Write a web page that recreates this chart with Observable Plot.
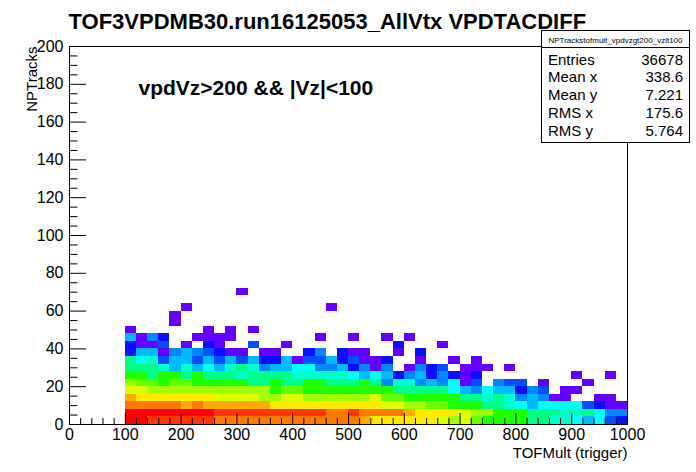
<!DOCTYPE html>
<html>
<head>
<meta charset="utf-8">
<script src="https://cdn.jsdelivr.net/npm/d3@7"></script>
<script src="https://cdn.jsdelivr.net/npm/@observablehq/plot@0.6"></script>
<style>
  html, body { margin: 0; padding: 0; background: #fff; }
  #chart { width: 696px; height: 472px; }
</style>
</head>
<body>
<div id="chart"></div>
<script>
// ---- Text ----
const title = "TOF3VPDMB30.run16125053_AllVtx VPDTACDIFF";
const cutLabel = "vpdVz>200 && |Vz|<100";
const xLabel = "TOFMult (trigger)";
const yLabel = "NPTracks";
const histName = "NPTrackstofmult_vpdvzgt200_vzlt100";
const statNames = ["Entries", "Mean x", "Mean y", "RMS x", "RMS y"];
const statValues = ["36678", "338.6", "7.221", "175.6", "5.764"];

// ---- Ticks ----
const xTicks = [0, 100, 200, 300, 400, 500, 600, 700, 800, 900, 1000];
const yTicks = [0, 20, 40, 60, 80, 100, 120, 140, 160, 180, 200];

// ---- Binning: x bins of 20 starting at TOFMult = 100, y bins of 4 from 0 ----
const xFirstEdge = 100, xBinWidth = 20, yBinWidth = 4;

// ---- Counts per cell (row = NPTracks bin, column = TOFMult bin 100..1000) ----
const row00 = [512,468,372,355,341,333,318,301,276,268,259,251,247,240,236,229,221,214,209,204,198,181,131,124,118,110,103,97,88,60,66,42,29,27,24,22,19,17,14,12,9,6,7,3,2];
const row01 = [545,530,512,497,470,455,431,414,395,384,372,361,350,338,322,311,298,286,272,263,284,254,241,226,210,186,131,122,112,101,86,61,54,29,27,23,20,18,16,13,11,15,8,4,4];
const row02 = [268,255,243,231,212,188,201,190,182,174,163,152,141,132,128,122,118,113,108,104,99,96,93,84,77,58,51,41,35,28,25,22,18,16,11,8,5,8,7,7,7,3,2,1,1];
const row03 = [147,131,127,121,116,109,102,96,89,84,79,74,58,52,68,64,61,57,54,51,48,46,63,40,36,29,27,25,23,21,19,16,12,15,10,4,5,4,1,1,0,0,1,1,0];
const row04 = [82,76,61,59,57,56,54,53,51,50,48,47,45,29,34,31,28,27,26,25,24,24,23,22,20,18,17,16,15,8,6,4,7,6,5,2,4,3,0,1,1,0,0,0,0];
const row05 = [48,38,35,28,33,31,27,26,25,24,23,19,18,22,17,16,21,22,17,16,15,21,15,4,12,11,4,5,4,7,1,3,0,4,3,3,0,1,0,0,0,1,0,0,0];
const row06 = [26,24,19,23,22,18,21,17,16,16,13,17,16,15,15,12,12,11,11,10,8,6,7,5,2,4,5,2,4,2,1,2,0,0,0,0,0,0,0,0,1,0,0,1,0];
const row07 = [18,16,15,13,6,11,5,8,6,12,15,10,4,6,5,9,7,4,4,5,2,4,1,4,0,1,4,2,3,0,1,1,1,0,1,0,0,0,0,0,0,0,0,0,0];
const row08 = [16,9,12,3,6,5,3,5,3,6,3,5,2,2,5,1,3,3,6,2,3,1,1,2,0,0,1,0,0,1,0,1,0,0,0,0,0,0,0,0,0,0,0,0,0];
const row09 = [2,6,5,1,4,5,4,3,2,1,1,0,1,1,0,0,2,4,0,2,1,1,0,0,1,0,2,0,0,0,0,0,0,0,0,0,0,0,0,0,0,0,0,0,0];
const row10 = [2,1,1,3,0,1,0,2,1,0,0,3,0,0,1,0,0,0,0,0,0,0,0,0,2,0,0,0,1,0,0,0,0,0,0,0,0,0,0,0,0,0,0,0,0];
const row11 = [5,1,4,2,0,0,1,1,1,1,0,0,0,0,0,0,0,1,0,0,1,0,0,1,0,1,0,0,0,0,0,0,0,0,0,0,0,0,0,0,0,0,0,0,0];
const row12 = [1,0,0,0,0,0,0,1,0,1,0,1,0,0,0,0,0,0,0,0,0,0,0,0,0,0,0,0,0,0,0,0,0,0,0,0,0,0,0,0,0,0,0,0,0];
const row13 = [0,0,0,0,1,0,0,0,0,0,0,0,0,0,0,0,0,0,0,0,0,0,0,0,0,0,0,0,0,0,0,0,0,0,0,0,0,0,0,0,0,0,0,0,0];
const row14 = [0,0,0,0,1,0,0,0,0,0,0,0,0,0,0,0,0,0,0,0,0,0,0,0,0,0,0,0,0,0,0,0,0,0,0,0,0,0,0,0,0,0,0,0,0];
const row15 = [0,0,0,0,0,1,0,0,0,0,0,0,0,0,0,0,0,0,1,0,0,0,0,0,0,0,0,0,0,0,0,0,0,0,0,0,0,0,0,0,0,0,0,0,0];
const row16 = [0,0,0,0,0,0,0,0,0,0,0,0,0,0,0,0,0,0,0,0,0,0,0,0,0,0,0,0,0,0,0,0,0,0,0,0,0,0,0,0,0,0,0,0,0];
const row17 = [0,0,0,0,0,0,0,0,0,0,1,0,0,0,0,0,0,0,0,0,0,0,0,0,0,0,0,0,0,0,0,0,0,0,0,0,0,0,0,0,0,0,0,0,0];

// ---- Colour palette (ROOT rainbow, log z) ----
const palette = ["#6400ff","#0a10ff","#0050ff","#0088ff","#00baff","#00ffff","#00ffcc","#00ff88","#1eff00",
                 "#66ff00","#a0ff00","#dcff00","#ffea00","#ffaa00","#ff7800","#ff3600","#ff0000"];
const thresholds = [1.5, 2.5, 3.5, 5, 7, 10, 14.5, 21, 30, 44, 63, 92, 135, 195, 280, 400];

const rows = [row00,row01,row02,row03,row04,row05,row06,row07,row08,row09,row10,row11,row12,row13,row14,row15,row16,row17];
const cells = [];
rows.forEach((row, j) => row.forEach((n, k) => {
  if (n > 0) cells.push({
    x1: xFirstEdge + k * xBinWidth, x2: xFirstEdge + (k + 1) * xBinWidth,
    y1: j * yBinWidth, y2: (j + 1) * yBinWidth, n
  });
}));

const W = 696, H = 472, mL = 69, mR = 69, mT = 46, mB = 48;
const frameW = W - mL - mR, frameH = H - mT - mB;
const xMinor = d3.range(0, 1001, 20).filter(v => v % 100 !== 0);
const yMinor = d3.range(0, 201, 5).filter(v => v % 20 !== 0);
const font = "'Liberation Sans', Arial, Helvetica, sans-serif";

const chart = Plot.plot({
  width: W, height: H,
  marginLeft: mL, marginRight: mR, marginTop: mT, marginBottom: mB,
  style: {fontFamily: font, fontSize: "16px", color: "#000", background: "#fff", overflow: "visible"},
  x: {domain: [0, 1000], label: null},
  y: {domain: [0, 200], label: null},
  color: {type: "threshold", domain: thresholds, range: palette},
  marks: [
    Plot.rect(cells, {x1: "x1", x2: "x2", y1: "y1", y2: "y2", fill: "n", shapeRendering: "crispEdges"}),
    Plot.frame({stroke: "#000", strokeWidth: 1}),
    Plot.tickX(xTicks, {x: d => d, stroke: "#000", insetTop: frameH - 11}),
    Plot.tickX(xMinor, {x: d => d, stroke: "#000", insetTop: frameH - 6}),
    Plot.tickY(yTicks, {y: d => d, stroke: "#000", insetRight: frameW - 17}),
    Plot.tickY(yMinor, {y: d => d, stroke: "#000", insetRight: frameW - 8.5}),
    Plot.axisX({ticks: xTicks, tickSize: 0, tickPadding: 4, fontSize: 16, label: null, tickFormat: d => String(d)}),
    Plot.axisY({ticks: yTicks, tickSize: 0, tickPadding: 6, fontSize: 16, label: null, tickFormat: d => String(d)}),
    Plot.text([xLabel], {text: d => d, frameAnchor: "bottom-right", textAnchor: "end", lineAnchor: "top", dy: 23, fontSize: 15, fill: "#000"}),
    Plot.text([yLabel], {text: d => d, frameAnchor: "top-left", rotate: -90, textAnchor: "end", lineAnchor: "middle", dx: -37, fontSize: 15, fill: "#000"}),
    Plot.text([title], {text: d => d, frameAnchor: "top-left", textAnchor: "start", lineAnchor: "top", dx: -1, dy: -33, fontSize: 22, fontWeight: "bold", fill: "#000"}),
    Plot.text([cutLabel], {text: d => d, frameAnchor: "top-left", textAnchor: "start", lineAnchor: "top", dx: 69, dy: 34, fontSize: 21, fontWeight: "bold", fill: "#000"})
  ]
});
document.getElementById("chart").appendChild(chart);

// ---- Statistics box (ROOT stat pave) ----
const svg = d3.select(chart);
const box = {x: 541.5, y: 30.5, w: 148, h: 112, hdr: 17};
const g = svg.append("g").attr("font-family", font).attr("fill", "#000").attr("text-anchor", "start");
g.append("rect").attr("x", box.x).attr("y", box.y).attr("width", box.w).attr("height", box.h)
  .attr("fill", "#fff").attr("stroke", "#000");
g.append("line").attr("x1", box.x).attr("x2", box.x + box.w).attr("y1", box.y + box.hdr).attr("y2", box.y + box.hdr)
  .attr("stroke", "#000");
g.append("text").attr("x", box.x + box.w / 2).attr("y", 42.5).attr("text-anchor", "middle")
  .attr("font-size", 8).text(histName);
const baselines = [64.5, 82.3, 100.1, 117.9, 135.7];
statNames.forEach((name, i) => {
  g.append("text").attr("x", 548).attr("y", baselines[i]).attr("text-anchor", "start").attr("font-size", 15).text(name);
  g.append("text").attr("x", 683).attr("y", baselines[i]).attr("text-anchor", "end").attr("font-size", 15).text(statValues[i]);
});
</script>
</body>
</html>
